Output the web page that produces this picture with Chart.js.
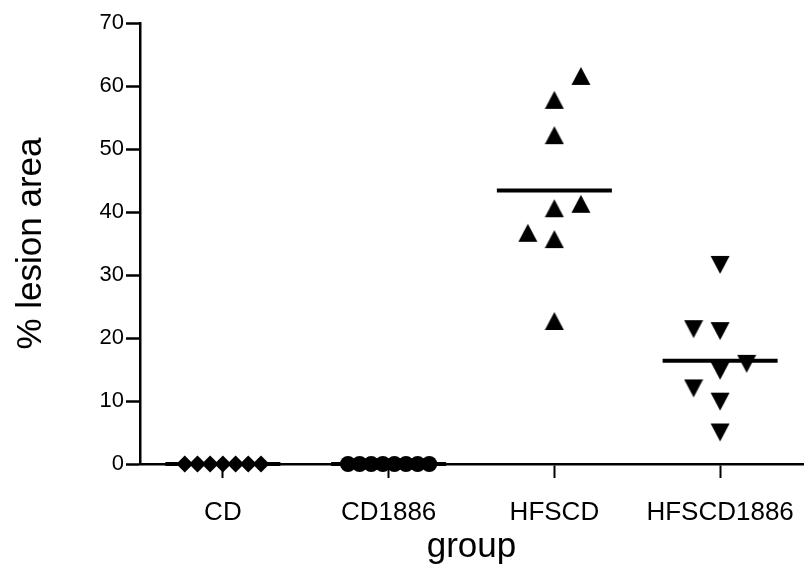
<!DOCTYPE html>
<html>
<head>
<meta charset="utf-8">
<script src="https://cdn.jsdelivr.net/npm/chart.js@4"></script>
<style>
    html, body { margin: 0; padding: 0; background: #FFFFFF; }
    #wrap { width: 804px; height: 574px; }
</style>
</head>
<body>
<div id="wrap"><canvas id="lesionChart" width="804" height="574"></canvas></div>
<script>
// groups on the x axis
const groups = ['CD', 'CD1886', 'HFSCD', 'HFSCD1886'];
const yTicks = [0, 10, 20, 30, 40, 50, 60, 70];

// % lesion area per animal
const cdValues = [0, 0, 0, 0, 0, 0, 0];
const cd1886Values = [0, 0, 0, 0, 0, 0, 0, 0];
const hfscdValues = [61.6, 57.8, 52.2, 41.3, 40.6, 36.7, 35.7, 22.7];
const hfscd1886Values = [31.6, 21.4, 21.1, 15.9, 14.8, 12.0, 9.9, 5.0];

// horizontal scatter of each point around its group (in group units)
const cdSpread = [-0.23, -0.153, -0.077, 0, 0.077, 0.153, 0.23];
const cd1886Spread = [-0.245, -0.175, -0.105, -0.035, 0.035, 0.105, 0.175, 0.245];
const hfscdSpread = [0.16, 0, 0, 0.16, 0, -0.16, 0, 0];
const hfscd1886Spread = [0, -0.16, 0, 0.16, 0, -0.16, 0, 0];

// mean line per group
const groupMeans = [0, 0, 43.4, 16.4];

const FONT = "'Liberation Sans', Arial, sans-serif";

function makeTriangle(down) {
    const c = document.createElement('canvas');
    c.width = 20;
    c.height = 20;
    const g = c.getContext('2d');
    g.fillStyle = '#000000';
    g.beginPath();
    if (down) {
        g.moveTo(0.5, 1); g.lineTo(19.5, 1); g.lineTo(10, 19);
    } else {
        g.moveTo(10, 1); g.lineTo(19.5, 19); g.lineTo(0.5, 19);
    }
    g.closePath();
    g.fill();
    return c;
}

function points(groupIndex, values, spread) {
    return values.map((v, i) => ({ x: groupIndex + spread[i], y: v }));
}

function meanLine(groupIndex) {
    return {
        data: [
            { x: groupIndex - 0.347, y: groupMeans[groupIndex] },
            { x: groupIndex + 0.347, y: groupMeans[groupIndex] }
        ],
        showLine: true,
        borderColor: '#000000',
        borderWidth: 4,
        pointRadius: 0,
        clip: false,
        order: 1
    };
}

function markers(groupIndex, values, spread, style, radius) {
    return {
        data: points(groupIndex, values, spread),
        pointStyle: style,
        pointRadius: radius,
        backgroundColor: '#000000',
        borderColor: '#000000',
        borderWidth: 0,
        showLine: false,
        clip: false,
        order: 0
    };
}

new Chart(document.getElementById('lesionChart').getContext('2d'), {
    type: 'scatter',
    data: {
        datasets: [
            markers(0, cdValues, cdSpread, 'rectRot', 8.5),
            markers(1, cd1886Values, cd1886Spread, 'circle', 8),
            markers(2, hfscdValues, hfscdSpread, makeTriangle(false), 10),
            markers(3, hfscd1886Values, hfscd1886Spread, makeTriangle(true), 10),
            meanLine(0),
            meanLine(1),
            meanLine(2),
            meanLine(3)
        ]
    },
    options: {
        responsive: false,
        animation: false,
        events: [],
        layout: { autoPadding: false, padding: { top: 23, right: 1, left: 0, bottom: 0 } },
        plugins: {
            legend: { display: false },
            tooltip: { enabled: false }
        },
        scales: {
            x: {
                type: 'linear',
                min: -0.5,
                max: 3.5,
                afterBuildTicks: (scale) => {
                    scale.ticks = groups.map((g, i) => ({ value: i }));
                },
                afterFit: (scale) => {
                    scale.height = 110;
                    scale.paddingLeft = 0;
                    scale.paddingRight = 0;
                },
                ticks: {
                    color: '#000000',
                    font: { family: FONT, size: 26 },
                    padding: 19,
                    maxRotation: 0,
                    callback: (value) => groups[value]
                },
                grid: {
                    drawOnChartArea: false,
                    drawTicks: true,
                    tickLength: 14,
                    tickWidth: 2,
                    tickColor: '#000000'
                },
                border: { display: true, color: '#000000', width: 2.5 },
                title: {
                    display: true,
                    text: 'group',
                    color: '#000000',
                    font: { family: FONT, size: 35 },
                    padding: { top: 0, bottom: 6 }
                }
            },
            y: {
                min: 0,
                max: 70,
                afterBuildTicks: (scale) => {
                    scale.ticks = yTicks.map((v) => ({ value: v }));
                },
                afterFit: (scale) => { scale.width = 140; },
                ticks: {
                    color: '#000000',
                    font: { family: FONT, size: 22 },
                    padding: 2
                },
                grid: {
                    drawOnChartArea: false,
                    drawTicks: true,
                    tickLength: 14,
                    tickWidth: 2.5,
                    tickColor: '#000000'
                },
                border: { display: true, color: '#000000', width: 2.5 },
                title: {
                    display: true,
                    text: '% lesion area',
                    color: '#000000',
                    font: { family: FONT, size: 35 },
                    padding: { top: 10, bottom: 0 }
                }
            }
        }
    }
});
</script>
</body>
</html>
